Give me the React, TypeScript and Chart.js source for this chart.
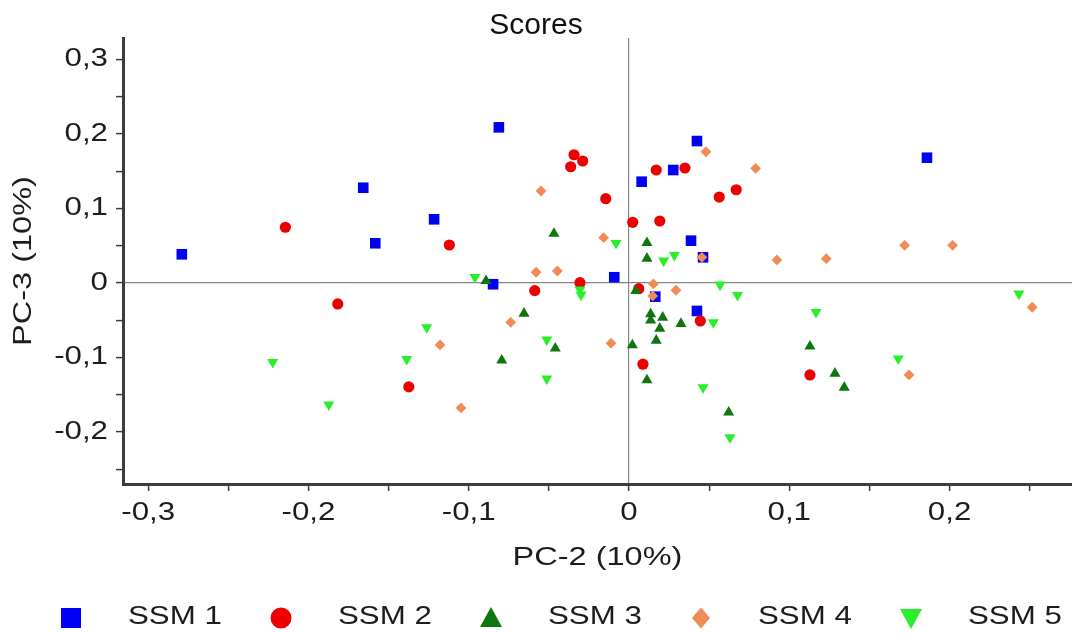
import React, { useEffect, useRef } from 'react';
import { Chart, registerables } from 'chart.js';

Chart.register(...registerables);

// ---- Score values (PC-2 on x, PC-3 on y) ----
const seriesNames = ['SSM 1', 'SSM 2', 'SSM 3', 'SSM 4', 'SSM 5'];

const ssm1X = [-0.279, -0.1658, -0.1583, -0.1216, -0.0812, -0.0848, -0.0092, 0.0079, 0.0276, 0.0424, 0.0387, 0.0462, 0.0164, 0.0424, 0.1859];
const ssm1Y = [0.0385, 0.1279, 0.0533, 0.0855, 0.209, -0.0017, 0.0077, 0.136, 0.1517, 0.1906, 0.0568, 0.0345, -0.0184, -0.0376, 0.1682];

const ssm2X = [-0.2144, -0.1121, -0.0343, -0.0289, -0.0364, -0.0145, 0.0023, 0.0192, 0.017, 0.0349, 0.0563, 0.0669, -0.1817, -0.0588, -0.0306, 0.0061, 0.0087, 0.0445, 0.1129, -0.1374];
const ssm2Y = [0.0748, 0.051, 0.1722, 0.1638, 0.1561, 0.1132, 0.0815, 0.0832, 0.1517, 0.1544, 0.1154, 0.1252, -0.0282, -0.0103, 0.0004, -0.0077, -0.1091, -0.051, -0.1235, -0.1396];

const ssm3X = [-0.0468, 0.0112, 0.0112, -0.0892, 0.0042, 0.0135, 0.0135, 0.021, 0.0192, 0.0324, 0.017, 0.0021, 0.0112, 0.0622, -0.0655, -0.046, -0.0794, 0.1129, 0.1285, 0.1343];
const ssm3Y = [0.0664, 0.0539, 0.0329, 0.0029, -0.0105, -0.0419, -0.0503, -0.0463, -0.0611, -0.0548, -0.0772, -0.0835, -0.1305, -0.1738, -0.041, -0.0879, -0.104, -0.0852, -0.1215, -0.1403];

const ssm4X = [-0.0549, -0.0158, 0.048, 0.0455, 0.079, 0.172, 0.2019, 0.0923, 0.1231, -0.058, -0.0447, 0.0152, 0.0148, 0.0293, -0.0112, -0.0738, -0.1179, -0.1048, 0.1747, 0.2516];
const ssm4Y = [0.1235, 0.0608, 0.1762, 0.0345, 0.154, 0.0506, 0.0506, 0.0309, 0.0326, 0.0144, 0.0161, -0.0013, -0.0174, -0.0098, -0.0809, -0.0528, -0.0832, -0.1678, -0.1235, -0.0326];

const ssm5X = [-0.0081, 0.0216, 0.0283, -0.0961, -0.0306, -0.0299, 0.0568, 0.0677, 0.0526, 0.0462, 0.063, -0.0513, -0.0513, -0.1262, -0.1387, -0.2223, -0.1873, 0.1167, 0.168, 0.2433];
const ssm5Y = [0.0534, 0.0298, 0.0373, 0.0078, -0.0091, -0.0158, -0.0024, -0.0164, -0.053, -0.1403, -0.2074, -0.0762, -0.1286, -0.0597, -0.1023, -0.1063, -0.1635, -0.0392, -0.1017, -0.0145];

const xTickValues = [-0.3, -0.25, -0.2, -0.15, -0.1, -0.05, 0, 0.05, 0.1, 0.15, 0.2, 0.25];
const xTickLabels = ['-0,3', '', '-0,2', '', '-0,1', '', '0', '', '0,1', '', '0,2', ''];
const yTickValues = [-0.25, -0.2, -0.15, -0.1, -0.05, 0, 0.05, 0.1, 0.15, 0.2, 0.25, 0.3];
const yTickLabels = ['', '-0,2', '', '-0,1', '', '0', '', '0,1', '', '0,2', '', '0,3'];

const X_MIN = -0.3157;
const X_MAX = 0.2764;
const Y_MIN = -0.27;
const Y_MAX = 0.329;

const TITLE_TEXT = 'Scores';

// ---- Styling ----
const FONT = "'Liberation Sans', Arial, Helvetica, sans-serif";
const TEXT_STRETCH = 1.25; // wide lettering for axis and legend text
const TEXT_COLOR = '#1c1c1c';
const AXIS_COLOR = '#3c3c3c';

const seriesColors = ['#0000f2', '#ee0000', '#0f760f', '#f08b55', '#28ef28'];
const seriesStyles = ['rect', 'circle', 'triangle', 'rectRot', 'triangle'];
const seriesRotation = [0, 0, 0, 0, 180];
const seriesRadius = [7.5, 5.6, 6.4, 5.4, 6.4];

const LEGEND_Y = 618;
const LEGEND_START_X = 71;
const LEGEND_PITCH = 210;
const LEGEND_TEXT_GAP = 57;

const toPoints = (xs: number[], ys: number[]) => xs.map((x, i) => ({ x, y: ys[i] }));

const seriesPoints = [
  toPoints(ssm1X, ssm1Y),
  toPoints(ssm2X, ssm2Y),
  toPoints(ssm3X, ssm3Y),
  toPoints(ssm4X, ssm4Y),
  toPoints(ssm5X, ssm5Y),
];

// Draws labels horizontally widened around their anchor point
// (anchor stays put, so left/center/right alignment is preserved).
const wideTextPlugin = {
  id: 'wideText',
  beforeInit(chart: any) {
    const ctx = chart.ctx;
    if (Object.prototype.hasOwnProperty.call(ctx, 'fillText')) return;
    const base = CanvasRenderingContext2D.prototype.fillText;
    ctx.fillText = function (text: string, x: number, y: number, maxWidth?: number) {
      if (text === TITLE_TEXT) {
        return maxWidth === undefined ? base.call(ctx, text, x, y) : base.call(ctx, text, x, y, maxWidth);
      }
      ctx.save();
      ctx.translate(x, y);
      ctx.scale(TEXT_STRETCH, 1);
      base.call(ctx, text, 0, 0);
      ctx.restore();
    };
  },
  beforeDestroy(chart: any) {
    if (chart.ctx) delete chart.ctx.fillText;
  },
};

function drawLegendMarker(ctx: CanvasRenderingContext2D, style: string, rotation: number, x: number, y: number, color: string) {
  ctx.fillStyle = color;
  ctx.beginPath();
  if (style === 'rect') {
    ctx.rect(x - 10, y - 10, 20, 20);
  } else if (style === 'circle') {
    ctx.arc(x, y, 10.5, 0, Math.PI * 2);
  } else if (style === 'rectRot') {
    ctx.moveTo(x, y - 10.5);
    ctx.lineTo(x + 9, y);
    ctx.lineTo(x, y + 10.5);
    ctx.lineTo(x - 9, y);
  } else if (style === 'triangle' && rotation === 180) {
    ctx.moveTo(x - 11, y - 9);
    ctx.lineTo(x + 11, y - 9);
    ctx.lineTo(x, y + 11);
  } else {
    ctx.moveTo(x, y - 11);
    ctx.lineTo(x + 11, y + 9);
    ctx.lineTo(x - 11, y + 9);
  }
  ctx.closePath();
  ctx.fill();
}

// Legend row beneath the x axis title.
const bottomLegendPlugin = {
  id: 'bottomLegend',
  afterDraw(chart: any) {
    const ctx: CanvasRenderingContext2D = chart.ctx;
    ctx.save();
    ctx.font = `25px ${FONT}`;
    ctx.textAlign = 'left';
    ctx.textBaseline = 'middle';
    chart.data.datasets.forEach((ds: any, i: number) => {
      const cx = LEGEND_START_X + i * LEGEND_PITCH;
      drawLegendMarker(ctx, ds.pointStyle, ds.pointRotation || 0, cx, LEGEND_Y, ds.pointBackgroundColor);
      ctx.fillStyle = TEXT_COLOR;
      ctx.fillText(ds.label, cx + LEGEND_TEXT_GAP, LEGEND_Y - 1);
    });
    ctx.restore();
  },
};

const zeroLineColor = (c: any) => (c.tick && Math.abs(c.tick.value) < 1e-9 ? '#858585' : 'rgba(0,0,0,0)');

export default function App() {
  const canvasRef = useRef<HTMLCanvasElement | null>(null);

  useEffect(() => {
    const canvas = canvasRef.current;
    if (!canvas) return;

    const datasets = seriesNames.map((name, i) => ({
      label: name,
      data: seriesPoints[i],
      pointStyle: seriesStyles[i],
      pointRotation: seriesRotation[i],
      pointRadius: seriesRadius[i],
      pointHoverRadius: seriesRadius[i],
      pointBackgroundColor: seriesColors[i],
      backgroundColor: seriesColors[i],
      pointBorderWidth: 0,
      borderWidth: 0,
      showLine: false,
      order: seriesNames.length - i,
    }));

    const chart = new Chart(canvas, {
      type: 'scatter',
      data: { datasets },
      plugins: [wideTextPlugin, bottomLegendPlugin],
      options: {
        animation: false,
        responsive: false,
        devicePixelRatio: 1,
        events: [],
        layout: { autoPadding: false, padding: { left: 0, right: 0, top: 0, bottom: 45 } },
        plugins: {
          legend: { display: false },
          tooltip: { enabled: false },
          title: {
            display: true,
            text: TITLE_TEXT,
            color: '#111111',
            font: { family: FONT, size: 30, weight: 'normal', lineHeight: 1 },
            padding: { top: 11, bottom: -3 },
          },
        },
        scales: {
          x: {
            type: 'linear',
            min: X_MIN,
            max: X_MAX,
            afterBuildTicks: (s: any) => {
              s.ticks = xTickValues.map((v) => ({ value: v }));
            },
            afterFit: (s: any) => {
              s.height = 104;
              s.paddingLeft = 0;
              s.paddingRight = 0;
            },
            ticks: {
              autoSkip: false,
              maxRotation: 0,
              padding: 7,
              color: TEXT_COLOR,
              font: { family: FONT, size: 25 },
              callback: (_v: any, i: number) => xTickLabels[i],
            },
            grid: {
              drawOnChartArea: true,
              color: zeroLineColor,
              lineWidth: 1.2,
              drawTicks: true,
              tickLength: 7,
              tickColor: AXIS_COLOR,
              tickWidth: 1.5,
            },
            border: { display: true, color: AXIS_COLOR, width: 3 },
            title: {
              display: true,
              text: 'PC-2 (10%)',
              color: TEXT_COLOR,
              font: { family: FONT, size: 26 },
              padding: { top: 0, bottom: 15 },
            },
          },
          y: {
            type: 'linear',
            min: Y_MIN,
            max: Y_MAX,
            afterBuildTicks: (s: any) => {
              s.ticks = yTickValues.map((v) => ({ value: v }));
            },
            afterFit: (s: any) => {
              s.width = 123;
              s.paddingTop = 0;
              s.paddingBottom = 0;
            },
            ticks: {
              autoSkip: false,
              padding: 8,
              color: TEXT_COLOR,
              font: { family: FONT, size: 25 },
              callback: (_v: any, i: number) => yTickLabels[i],
            },
            grid: {
              drawOnChartArea: true,
              color: zeroLineColor,
              lineWidth: 1.2,
              drawTicks: true,
              tickLength: 7,
              tickColor: AXIS_COLOR,
              tickWidth: 1.5,
            },
            border: { display: true, color: AXIS_COLOR, width: 3 },
            title: {
              display: true,
              text: 'PC-3 (10%)',
              color: TEXT_COLOR,
              font: { family: FONT, size: 26 },
              padding: { top: 8, bottom: 0 },
            },
          },
        },
      } as any,
    });

    return () => {
      chart.destroy();
    };
  }, []);

  return (
    <div style={{ position: 'fixed', left: 0, top: 0, width: 1072, height: 633, background: '#ffffff' }}>
      <canvas ref={canvasRef} width={1072} height={633} style={{ display: 'block' }} />
    </div>
  );
}
